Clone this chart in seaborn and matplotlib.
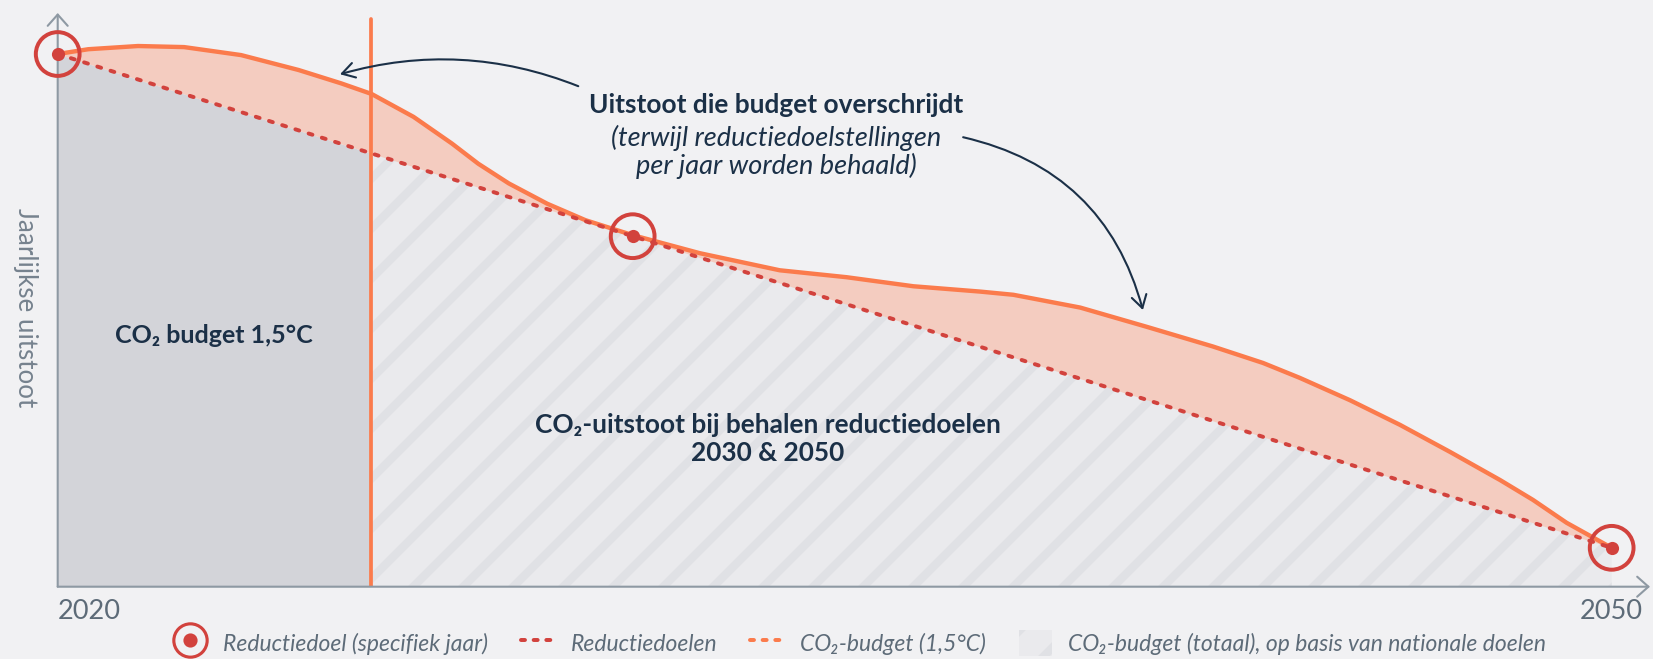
import numpy as np
import matplotlib
matplotlib.use("Agg")
import matplotlib.pyplot as plt
import seaborn as sns
from matplotlib.lines import Line2D
from matplotlib.patches import Patch

# schematic chart: x in years, y in relative units (2020 target = 100)
target_x = [2020, 2031.1, 2050]
target_vals = [100, 65.8, 7.3]
budget_year = 2026.04

curve_years = [2020, 2020.59, 2021.55, 2022.44, 2023.54, 2024.65, 2025.47, 2026.06,
               2026.87, 2027.61, 2028.12, 2028.71, 2029.45, 2030.19, 2031.1, 2032.4,
               2033.94, 2035.23, 2036.52, 2037.81, 2038.45, 2039.74, 2041.02, 2042.3,
               2043.27, 2043.98, 2044.95, 2045.91, 2046.88, 2047.85, 2048.48, 2049.13,
               2050]
curve_vals = [100, 100.9, 101.5, 101.3, 99.8, 97.0, 94.5, 92.5,
              88.2, 83.2, 79.4, 75.7, 71.9, 68.8, 66.0, 62.6,
              59.4, 58.1, 56.4, 55.4, 54.8, 52.4, 48.8, 45.1,
              42.0, 39.2, 35.0, 30.4, 25.3, 20.0, 16.3, 12.0,
              7.3]

tick_years = [2020, 2050]
tick_labels = ["2020", "2050"]

BG = "#f1f1f3"
GRAY_FILL = "#d3d4d9"
HATCH_BG = "#eaeaed"
HATCH_FG = "#e0e1e5"
EXCESS = "#f4ccc0"
ORANGE = "#fb7b4c"
RED = "#d2423d"
NAVY = "#1b3047"
AXIS = "#8e99a3"
LABEL = "#5d6b78"

sns.set_theme(style="white")
FONT = ["Lato", "DejaVu Sans"]
plt.rcParams["font.family"] = FONT
plt.rcParams["hatch.linewidth"] = 4.0

W, H, DPI = 1653, 659, 150
fig = plt.figure(figsize=(W / DPI, H / DPI), dpi=DPI, facecolor=BG)
ax = fig.add_axes([57.7 / W, 1 - 586.7 / H, (1650 - 57.7) / W, (586.7 - 13) / H])
ax.set_facecolor(BG)
ax.set_xlim(2020, 2050.74)
ax.set_ylim(0, 107.7)

cx = np.array(curve_years)
line_at_curve = np.interp(cx, target_x, target_vals)

# areas
gx = [2020, budget_year]
ax.fill_between(gx, 0, np.interp(gx, target_x, target_vals), color=GRAY_FILL, lw=0, zorder=1)
hx = [budget_year, target_x[1], 2050]
ax.fill_between(hx, 0, np.interp(hx, target_x, target_vals), facecolor=HATCH_BG,
                edgecolor=HATCH_FG, hatch="/", lw=0, zorder=1)
ax.fill_between(cx, line_at_curve, curve_vals, color=EXCESS, lw=0, zorder=1)

# lines
sns.lineplot(x=curve_years, y=curve_vals, ax=ax, color=ORANGE, linewidth=2.1,
             sort=False, estimator=None, zorder=3, solid_joinstyle="round")
ax.plot([budget_year, budget_year], [0, 106.6], color=ORANGE, lw=1.8, zorder=3,
        solid_capstyle="round")
sns.lineplot(x=target_x, y=target_vals, ax=ax, color=RED, linewidth=1.9,
             linestyle=(0, (1.0, 2.5)), dash_capstyle="round", sort=False,
             estimator=None, zorder=4)

# target markers
ax.scatter(target_x, target_vals, s=441, facecolors="none", edgecolors=RED,
           linewidths=1.9, zorder=5, clip_on=False)
sns.scatterplot(x=target_x, y=target_vals, ax=ax, color=RED, s=40, linewidth=0,
                zorder=6, clip_on=False)

# axes with arrow heads
for s in ax.spines.values():
    s.set_visible(False)
arrow = dict(arrowstyle="->,head_length=0.45,head_width=0.4", color=AXIS, lw=1.0,
             shrinkA=0, shrinkB=0)
ax.annotate("", xy=(0, 1), xytext=(0, 0), xycoords="axes fraction", arrowprops=arrow)
ax.annotate("", xy=(1, 0), xytext=(0, 0), xycoords="axes fraction", arrowprops=arrow)

ax.set_xticks(tick_years)
ax.set_xticklabels(tick_labels, fontsize=13, color=LABEL)
ax.get_xticklabels()[0].set_horizontalalignment("left")
ax.tick_params(axis="x", length=0, pad=6)
ax.set_yticks([])
ax.set_ylabel("Jaarlijkse uitstoot", rotation=-90, va="center", fontsize=12.5,
              color="#76828e")
ax.yaxis.set_label_coords(-0.0205, 0.486)

# texts
ax.text(2023.02, 47.2, "CO₂ budget 1,5°C", ha="center", va="center", fontsize=12,
        fontweight="bold", color=NAVY, zorder=7)
ax.text(2033.71, 27.8, "CO₂-uitstoot bij behalen reductiedoelen\n2030 & 2050",
        ha="center", va="center", fontsize=12.6, fontweight="bold", color=NAVY,
        linespacing=1.2, zorder=7)
ax.text(2033.87, 90.4, "Uitstoot die budget overschrijdt", ha="center", va="center",
        fontsize=12.6, fontweight="bold", color=NAVY, zorder=7)
ax.text(2033.87, 81.6, "(terwijl reductiedoelstellingen\nper jaar worden behaald)",
        ha="center", va="center", fontsize=13, style="italic", color=NAVY,
        linespacing=1.1, zorder=7)

note = dict(arrowstyle="->,head_length=0.5,head_width=0.3", color=NAVY, lw=1.0,
            shrinkA=0, shrinkB=0)
ax.annotate("", xy=(2025.45, 96.2), xytext=(2030.05, 93.96),
            arrowprops=dict(note, connectionstyle="arc3,rad=0.17"))
ax.annotate("", xy=(2040.95, 51.94), xytext=(2037.48, 84.38),
            arrowprops=dict(note, connectionstyle="arc3,rad=-0.3"))

# legend
ring = Line2D([], [], ls="none", marker="o", ms=16, mfc="none", mec=RED, mew=1.5)
dot = Line2D([], [], ls="none", marker="o", ms=5.8, color=RED)
red_dash = Line2D([], [], color=RED, lw=1.9, ls=(0, (1.0, 2.2)), dash_capstyle="round")
org_dash = Line2D([], [], color=ORANGE, lw=1.9, ls=(0, (1.0, 2.2)), dash_capstyle="round")
hatch = Patch(facecolor=HATCH_BG, edgecolor=HATCH_FG, hatch="/", lw=0)
fig.legend([(ring, dot), red_dash, org_dash, hatch],
           ["Reductiedoel (specifiek jaar)", "Reductiedoelen", "CO₂-budget (1,5°C)",
            "CO₂-budget (totaal), op basis van nationale doelen"],
           loc="center", bbox_to_anchor=(860 / W, 1 - 643 / H), ncol=4, frameon=False,
           prop={"family": FONT, "style": "italic", "size": 11}, labelcolor=LABEL,
           handlelength=1.45, handleheight=1.36, handletextpad=0.7, columnspacing=1.45)

fig.savefig("out.png", dpi=DPI, facecolor=BG)
